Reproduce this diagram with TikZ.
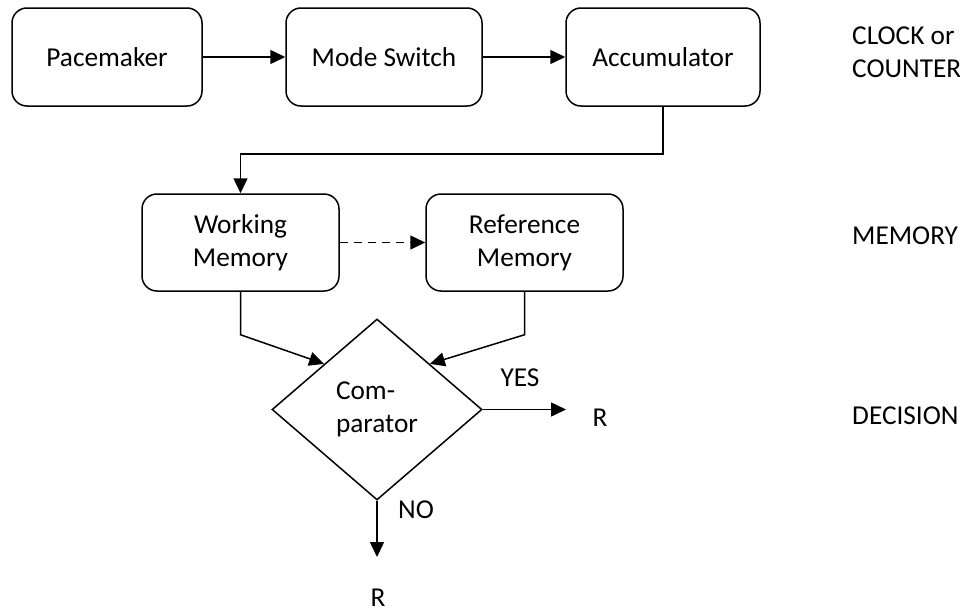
\documentclass[tikz,border=0pt]{standalone}
\usepackage{fontspec}
\setmainfont{Carlito}
\usetikzlibrary{shapes.geometric,arrows.meta}
\begin{document}
\begin{tikzpicture}[x=1pt,y=-1pt,
  font=\fontsize{27.3}{33}\selectfont,
  box/.style={draw,line width=1.5pt,rounded corners=15pt,minimum height=98pt,inner sep=2pt,align=center},
  conn/.style={line width=1.5pt,-{Triangle[length=15pt,width=14pt]}},
  lbl/.style={inner sep=0pt,align=left}]
\useasboundingbox (0,0) rectangle (960,613);
\node[box,minimum width=190pt] (pace) at (107,57) {Pacemaker};
\node[box,minimum width=196pt] (mode) at (384,57) {Mode Switch};
\node[box,minimum width=194pt] (acc) at (663,57) {Accumulator};
\node[box,minimum width=197pt,minimum height=97pt] (wm) at (240.5,242.5) {Working\\Memory};
\node[box,minimum width=197pt,minimum height=97pt] (rm) at (524.5,242.5) {Reference\\Memory};
\node[draw,diamond,line width=1.5pt,inner sep=0pt,minimum width=210pt,minimum height=181pt,align=left] (cmp) at (377,409.5) {Com-\\parator};
\node[lbl,anchor=west] (clk) at (852,52) {CLOCK or\\COUNTER};
\node[lbl,anchor=west] (mem) at (852,236) {MEMORY};
\node[lbl,anchor=west] (dec) at (852,416) {DECISION};
\node[lbl] (yes) at (520,378) {YES};
\node[lbl] (r1) at (600,418) {R};
\node[lbl] (no) at (416,510) {NO};
\node[lbl] (r2) at (378,598) {R};
\coordinate (yesend) at (566,409.5);
\coordinate (noend) at (377,557);
\draw[conn] (pace) -- (mode);
\draw[conn] (mode) -- (acc);
\draw[conn] (acc.south) -- ++(0,47) -| (wm.north);
\draw[conn,dash pattern=on 8pt off 6pt] (wm) -- (rm);
\draw[conn] (wm.south) -- ++(0,43) -- (cmp.north west);
\draw[conn] (rm.south) -- ++(0,43) -- (cmp.north east);
\draw[conn] (cmp.east) -- (yesend);
\draw[conn] (cmp.south) -- (noend);
\end{tikzpicture}
\end{document}
